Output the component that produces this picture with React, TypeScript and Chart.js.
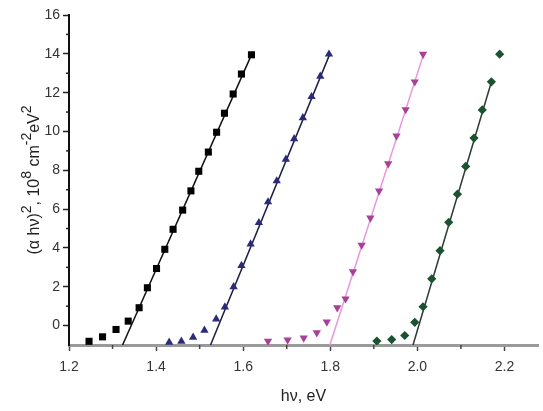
import React, { useEffect, useRef } from "react";
import { Chart, registerables } from "chart.js";

Chart.register(...registerables);

const blackX = [1.246, 1.277, 1.308, 1.336, 1.361, 1.380, 1.401, 1.420, 1.439, 1.461, 1.480, 1.498, 1.520, 1.539, 1.557, 1.577, 1.596, 1.619];
const blackY = [-0.81, -0.58, -0.2, 0.23, 0.92, 1.95, 2.94, 3.93, 4.96, 5.95, 6.94, 7.95, 8.94, 9.96, 10.94, 11.93, 12.96, 13.95];

const blueX = [1.430, 1.458, 1.485, 1.511, 1.538, 1.558, 1.578, 1.596, 1.617, 1.636, 1.657, 1.677, 1.698, 1.717, 1.737, 1.757, 1.777, 1.797];
const blueY = [-0.86, -0.81, -0.6, -0.24, 0.34, 0.95, 2.0, 3.09, 4.2, 5.3, 6.37, 7.45, 8.56, 9.62, 10.7, 11.79, 12.84, 13.98];

const pinkX = [1.657, 1.702, 1.739, 1.769, 1.792, 1.816, 1.835, 1.852, 1.872, 1.892, 1.912, 1.933, 1.952, 1.973, 1.994, 2.013];
const pinkY = [-0.8, -0.74, -0.64, -0.36, 0.19, 0.92, 1.38, 2.78, 4.15, 5.55, 6.94, 8.34, 9.77, 11.13, 12.56, 13.98];

const greenX = [1.907, 1.941, 1.971, 1.994, 2.013, 2.033, 2.052, 2.072, 2.092, 2.111, 2.130, 2.149, 2.170, 2.189];
const greenY = [-0.8, -0.72, -0.51, 0.17, 0.97, 2.41, 3.86, 5.32, 6.77, 8.2, 9.66, 11.11, 12.56, 13.98];

const fitBlackX = [1.323, 1.622];
const fitBlackY = [-1, 14.1];
const fitBlueX = [1.525, 1.8];
const fitBlueY = [-1, 14.05];
const fitPinkX = [1.799, 2.016];
const fitPinkY = [-1, 14.1];
const fitGreenX = [1.99, 2.172];
const fitGreenY = [-1, 12.7];

const xTicks = [1.2, 1.4, 1.6, 1.8, 2.0, 2.2];
const xMinorTicks = [1.3, 1.5, 1.7, 1.9, 2.1];
const yTicks = [0, 2, 4, 6, 8, 10, 12, 14, 16];
const yMinorTicks = [1, 3, 5, 7, 9, 11, 13, 15];

const xTitle = "hν, eV";
const yTitleParts: [string, boolean][] = [
  ["(α hν)", false],
  ["2", true],
  [", 10", false],
  ["8", true],
  [" cm", false],
  ["-2", true],
  ["eV", false],
  ["2", true],
];

const FONT = "'Liberation Sans', Arial, sans-serif";

const pts = (xs: number[], ys: number[]) => xs.map((x, i) => ({ x, y: ys[i] }));

const extras = {
  id: "extras",
  afterDraw(chart: any) {
    const ctx = chart.ctx;
    const xs = chart.scales.x;
    const ys = chart.scales.y;
    ctx.save();
    // minor ticks
    ctx.strokeStyle = "#222";
    ctx.lineWidth = 1.5;
    yMinorTicks.forEach((v) => {
      const py = ys.getPixelForValue(v);
      ctx.beginPath();
      ctx.moveTo(xs.left - 3, py);
      ctx.lineTo(xs.left, py);
      ctx.stroke();
    });
    ctx.strokeStyle = "#444";
    xMinorTicks.forEach((v) => {
      const px = xs.getPixelForValue(v);
      ctx.beginPath();
      ctx.moveTo(px, ys.bottom);
      ctx.lineTo(px, ys.bottom + 4);
      ctx.stroke();
    });
    // y title with superscripts
    const normal = `16px ${FONT}`;
    const sup = `14px ${FONT}`;
    let total = 0;
    yTitleParts.forEach(([t, s]) => {
      ctx.font = s ? sup : normal;
      total += ctx.measureText(t).width;
    });
    const cx = 35;
    const cy = (ys.top + ys.bottom) / 2;
    ctx.translate(cx, cy);
    ctx.rotate(-Math.PI / 2);
    ctx.fillStyle = "#222";
    ctx.textBaseline = "middle";
    ctx.textAlign = "left";
    let pos = -total / 2;
    yTitleParts.forEach(([t, s]) => {
      ctx.font = s ? sup : normal;
      ctx.fillText(t, pos, s ? -8 : 0);
      pos += ctx.measureText(t).width;
    });
    ctx.restore();
  },
};

export default function App() {
  const ref = useRef<HTMLCanvasElement>(null);
  useEffect(() => {
    if (!ref.current) return;
    const chart = new Chart(ref.current, {
      type: "scatter",
      data: {
        datasets: [
          { data: pts(blackX, blackY), pointStyle: "rect", pointRadius: 5, backgroundColor: "#000", borderColor: "#000", borderWidth: 0, order: 0 },
          { data: pts(blueX, blueY), pointStyle: "triangle", pointRadius: 4.8, backgroundColor: "#2b2b78", borderColor: "#2b2b78", borderWidth: 0, order: 0 },
          { data: pts(pinkX, pinkY), pointStyle: "triangle", rotation: 180, pointRadius: 4.8, backgroundColor: "#a8409a", borderColor: "#a8409a", borderWidth: 0, order: 0 },
          { data: pts(greenX, greenY), pointStyle: "rectRot", pointRadius: 4.6, backgroundColor: "#1b5230", borderColor: "#1b5230", borderWidth: 0, order: 0 },
          { data: pts(fitBlackX, fitBlackY), showLine: true, pointRadius: 0, borderColor: "#111", borderWidth: 1.5, order: 1 },
          { data: pts(fitBlueX, fitBlueY), showLine: true, pointRadius: 0, borderColor: "#1e1e40", borderWidth: 1.5, order: 1 },
          { data: pts(fitPinkX, fitPinkY), showLine: true, pointRadius: 0, borderColor: "#e896de", borderWidth: 1.5, order: 1 },
          { data: pts(fitGreenX, fitGreenY), showLine: true, pointRadius: 0, borderColor: "#2c3a30", borderWidth: 1.5, order: 1 },
        ],
      },
      options: {
        animation: false,
        responsive: false,
        maintainAspectRatio: false,
        layout: { padding: { top: 15, left: 0, right: 0, bottom: 0 } },
        plugins: { legend: { display: false }, tooltip: { enabled: false } },
        scales: {
          x: {
            type: "linear",
            min: 1.2,
            max: 2.277,
            afterFit: (s: any) => { s.height = 66; },
            afterBuildTicks: (s: any) => { s.ticks = xTicks.map((v) => ({ value: v })); },
            border: { display: true, color: "#9a9a9a", width: 3 },
            grid: { display: true, drawOnChartArea: false, drawTicks: true, tickLength: 6, tickColor: "#444", tickWidth: 1.5 },
            ticks: { color: "#333", font: { family: FONT, size: 14 }, padding: 8, maxRotation: 0, callback: (v: any) => Number(v).toFixed(1) },
            title: { display: true, text: xTitle, color: "#222", font: { family: FONT, size: 16 }, padding: { top: 0, bottom: 5 } },
          },
          y: {
            type: "linear",
            min: -1,
            max: 16,
            afterFit: (s: any) => { s.width = 69; },
            afterBuildTicks: (s: any) => { s.ticks = yTicks.map((v) => ({ value: v })); },
            border: { display: true, color: "#111", width: 2 },
            grid: { display: true, drawOnChartArea: false, drawTicks: true, tickLength: 6, tickColor: "#222", tickWidth: 1.5 },
            ticks: { color: "#333", font: { family: FONT, size: 14 }, padding: 3, callback: (v: any) => String(v) },
          },
        },
      },
      plugins: [extras],
    });
    return () => chart.destroy();
  }, []);
  return (
    <div style={{ position: "fixed", left: 0, top: 0, width: 543, height: 411, background: "#fff" }}>
      <canvas ref={ref} width={543} height={411} style={{ width: 543, height: 411, display: "block" }} />
    </div>
  );
}
